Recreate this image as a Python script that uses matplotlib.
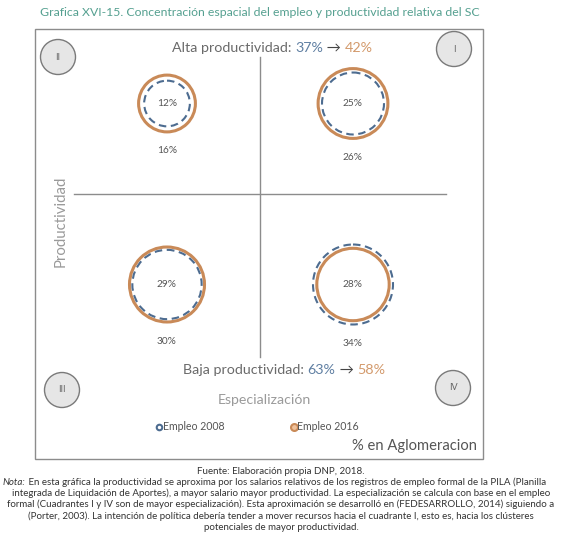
import matplotlib.pyplot as plt
from matplotlib.patches import Circle, Rectangle
import numpy as np

plt.rcParams['font.family'] = ['Lato', 'DejaVu Sans']

# data: share of employment in each quadrant
quadrants = ['I', 'II', 'III', 'IV']
especializacion = [1, -1, -1, 1]    # +1 alta, -1 baja
productividad = [1, 1, -1, -1]      # +1 alta, -1 baja
empleo_2008 = [25, 12, 29, 34]
empleo_2016 = [26, 16, 30, 28]
label_inside = ['25%', '12%', '29%', '28%']
label_below = ['26%', '16%', '30%', '34%']

blue = '#4d6c90'
orange = '#c98a58'
grey_txt = '#6a6a6a'
light_txt = '#9a9a9a'

fig = plt.figure(figsize=(5.62, 5.38), dpi=100)
ax = fig.add_axes([0, 0, 1, 1])
ax.set_xlim(0, 562)
ax.set_ylim(538, 0)
ax.axis('off')
renderer = fig.canvas.get_renderer()


def right_edge(t):
    bb = t.get_window_extent(renderer)
    return ax.transData.inverted().transform((bb.x1, bb.y0))[0]


# frame and cross
ax.add_patch(Rectangle((35, 29), 448, 430, fill=False, ec='#8c8c8c', lw=1))
cx, cy, dx, dy = 260, 194, 93, 90.5
ax.plot([74, 446], [cy, cy], color='#8c8c8c', lw=1)
ax.plot([cx, cx], [57, 357], color='#8c8c8c', lw=1)

# bubbles (radius in px from a size scale per series)
e = np.array(especializacion)
p = np.array(productividad)
x = cx + e * dx
y = cy - p * dy
r08 = 20.4 + 0.01695 * np.array(empleo_2008) ** 2
r16 = 18.0 + 0.65 * np.array(empleo_2016)
for i in range(len(quadrants)):
    ax.add_patch(Circle((x[i], y[i]), r16[i], fill=False, ec=orange, lw=2.2))
    ax.add_patch(Circle((x[i], y[i]), r08[i], fill=False, ec=blue, lw=1.5,
                        ls=(0, (3.6, 2.2))))
    ax.text(x[i], y[i], label_inside[i], ha='center', va='center',
            fontsize=7.3, color='#555555')
    ax.text(x[i], y[i] + max(r08[i], r16[i]) + 19, label_below[i],
            ha='center', va='center', fontsize=7.3, color='#555555')

# quadrant badges
badges = {'I': (454, 49), 'II': (58, 57), 'III': (62, 390), 'IV': (453, 388)}
for q in quadrants:
    bx, by = badges[q]
    ax.add_patch(Circle((bx, by), 17.5, fc='#e6e6e6', ec='#7a7a7a', lw=1))
    ax.text(bx, by, q, ha='center', va='center', fontsize=6.5, color='#666666')

# title
ax.text(260, 13, 'Grafica XVI-15. Concentración espacial del empleo y productividad relativa del SC',
        ha='center', va='center', fontsize=8.8, color='#55a090')

# headers with totals
alta08 = sum(v for v, pp in zip(empleo_2008, productividad) if pp > 0)
alta16 = sum(v for v, pp in zip(empleo_2016, productividad) if pp > 0)
baja08 = sum(v for v, pp in zip(empleo_2008, productividad) if pp < 0)
baja16 = sum(v for v, pp in zip(empleo_2016, productividad) if pp < 0)


def header(x0, y0, lab, v1, v2):
    parts = [(lab, grey_txt), (f'{v1}%', '#5f7fa2'), (' → ', '#444444'),
             (f'{v2}%', '#d39a6c')]
    xx = x0
    for s, c in parts:
        t = ax.text(xx, y0, s, ha='left', va='baseline', fontsize=10.3, color=c)
        xx = right_edge(t)


header(172, 52, 'Alta productividad: ', alta08, alta16)
header(183, 374, 'Baja productividad: ', baja08, baja16)

ax.text(264, 400, 'Especialización', ha='center', va='center', fontsize=10.2, color=light_txt)
ax.text(61, 221, 'Productividad', ha='center', va='center', rotation=90,
        fontsize=10.8, color=light_txt)

# legend
ax.plot([159], [427], marker='o', ms=4, mfc='white', mec=blue, mew=1.5)
ax.text(163, 427, 'Empleo 2008', ha='left', va='center', fontsize=7.6, color='#555555')
ax.plot([294], [427], marker='o', ms=5, mfc='#efc29c', mec=orange, mew=1.5)
ax.text(297, 427, 'Empleo 2016', ha='left', va='center', fontsize=7.6, color='#555555')

ax.text(477, 446, '% en Aglomeracion', ha='right', va='center', fontsize=10.6, color='#555555')

# footer
fs = 7.0
ax.text(281, 471, 'Fuente: Elaboración propia DNP, 2018.', ha='center', va='center',
        fontsize=fs, color='#333333')
n = ax.text(3, 485, 'Nota:', ha='left', va='baseline', fontsize=fs, color='#333333',
            style='italic')
ax.text(right_edge(n), 485, ' En esta gráfica la productividad se aproxima por los salarios relativos de los '
        'registros de empleo formal de la PILA (Planilla',
        ha='left', va='baseline', fontsize=fs, color='#333333')
note = [
    'integrada de Liquidación de Aportes), a mayor salario mayor productividad. La especialización se calcula con base en el empleo',
    'formal (Cuadrantes I y IV son de mayor especialización). Esta aproximación se desarrolló en (FEDESARROLLO, 2014) siguiendo a',
    '(Porter, 2003). La intención de política debería tender a mover recursos hacia el cuadrante I, esto es, hacia los clústeres',
    'potenciales de mayor productividad.',
]
for k, line in enumerate(note):
    ax.text(281, 493.5 + k * 11.2, line, ha='center', va='center', fontsize=fs, color='#333333')

fig.savefig('out.png', dpi=100)
